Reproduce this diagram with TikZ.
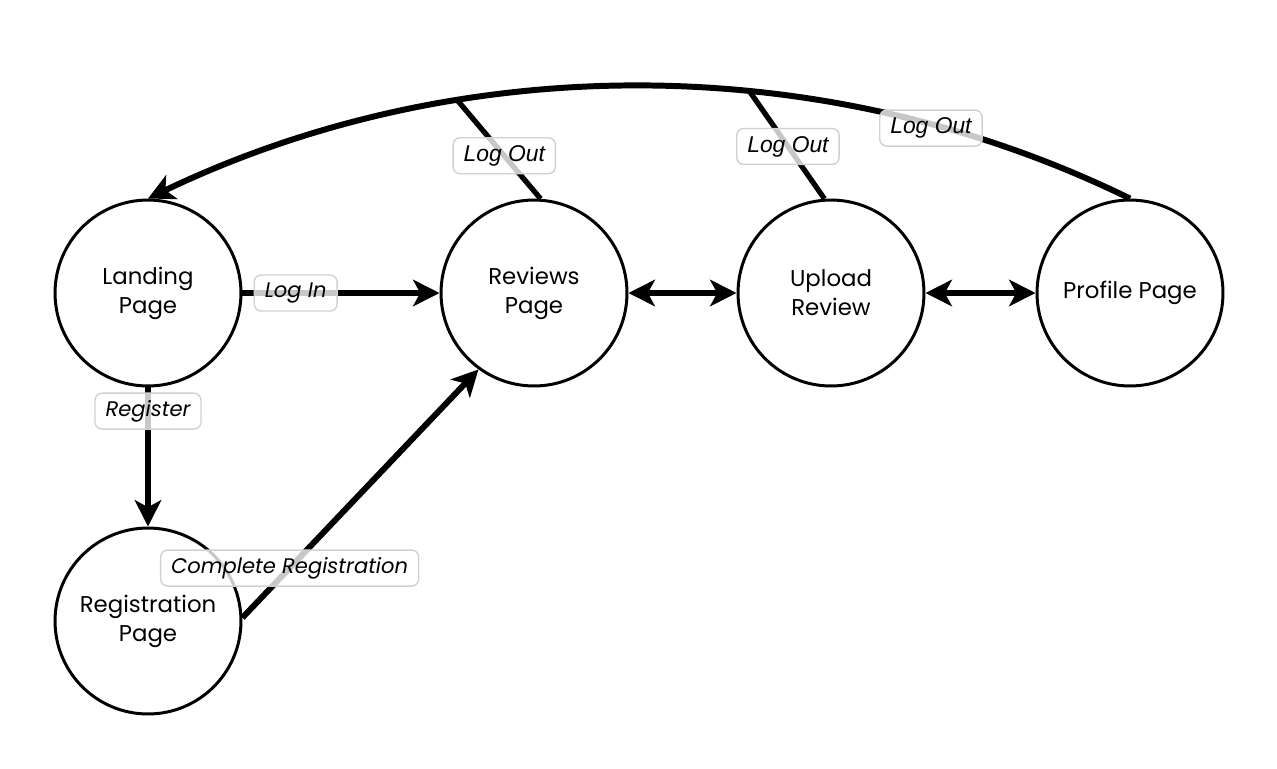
\documentclass[tikz,border=0pt]{standalone}
\usepackage{fontspec}
\setmainfont{Poppins}
\newfontfamily\arialfont{Liberation Sans}
\usetikzlibrary{arrows.meta}
\begin{document}
\begin{tikzpicture}[x=0.02cm,y=-0.02cm,
  state/.style={circle,draw=black,line width=1.7pt,minimum size=3.72cm,inner sep=0pt,align=center,font=\fontsize{13}{16.5}\selectfont},
  flow/.style={line width=3.4pt,-{Stealth[length=15pt,width=15pt,inset=4pt]}},
  both/.style={line width=3.4pt,{Stealth[length=15pt,width=15pt,inset=4pt]}-{Stealth[length=15pt,width=15pt,inset=4pt]}},
  plain/.style={line width=3pt},
  lbl/.style={draw=black!18,line width=0.8pt,rounded corners=4pt,fill=white,fill opacity=0.78,text opacity=1,inner xsep=6pt,minimum height=0.72cm,font=\fontsize{12}{14}\selectfont\itshape},
  lblarial/.style={lbl,font=\arialfont\fontsize{13}{15}\selectfont\itshape}
]
\useasboundingbox (0,0) rectangle (1277,768);
\node[state] (land) at (148,293) {Landing\\Page};
\node[state] (rev) at (534,293) {Reviews\\Page};
\node[state] (up) at (831,293) {Upload\\Review};
\node[state] (prof) at (1130,293) {Profile Page};
\node[state] (reg) at (148,621) {Registration\\Page};

\coordinate (j1) at (458,101);
\coordinate (j2) at (750,92);

\draw[flow] (land) -- node[lbl,pos=0.27] (llogin) {Log In} (rev);
\draw[flow] (land) -- node[lbl,pos=0.17] (lreg) {Register} (reg);
\draw[flow] (reg.2) -- node[lbl,pos=0.2] (lcomp) {Complete Registration} (rev.234);
\draw[both] (rev) -- (up);
\draw[both] (up) -- (prof);
\draw[flow] (prof.north) .. controls (825,49) and (460,49) .. node[lblarial,pos=0.21,yshift=-0.08cm] (lout3) {Log Out} (land.north);
\draw[plain] (rev.86) -- node[lblarial,pos=0.44] (lout1) {Log Out} (j1);
\draw[plain] (up.94) -- node[lblarial,pos=0.49] (lout2) {Log Out} (j2);
\end{tikzpicture}
\end{document}
